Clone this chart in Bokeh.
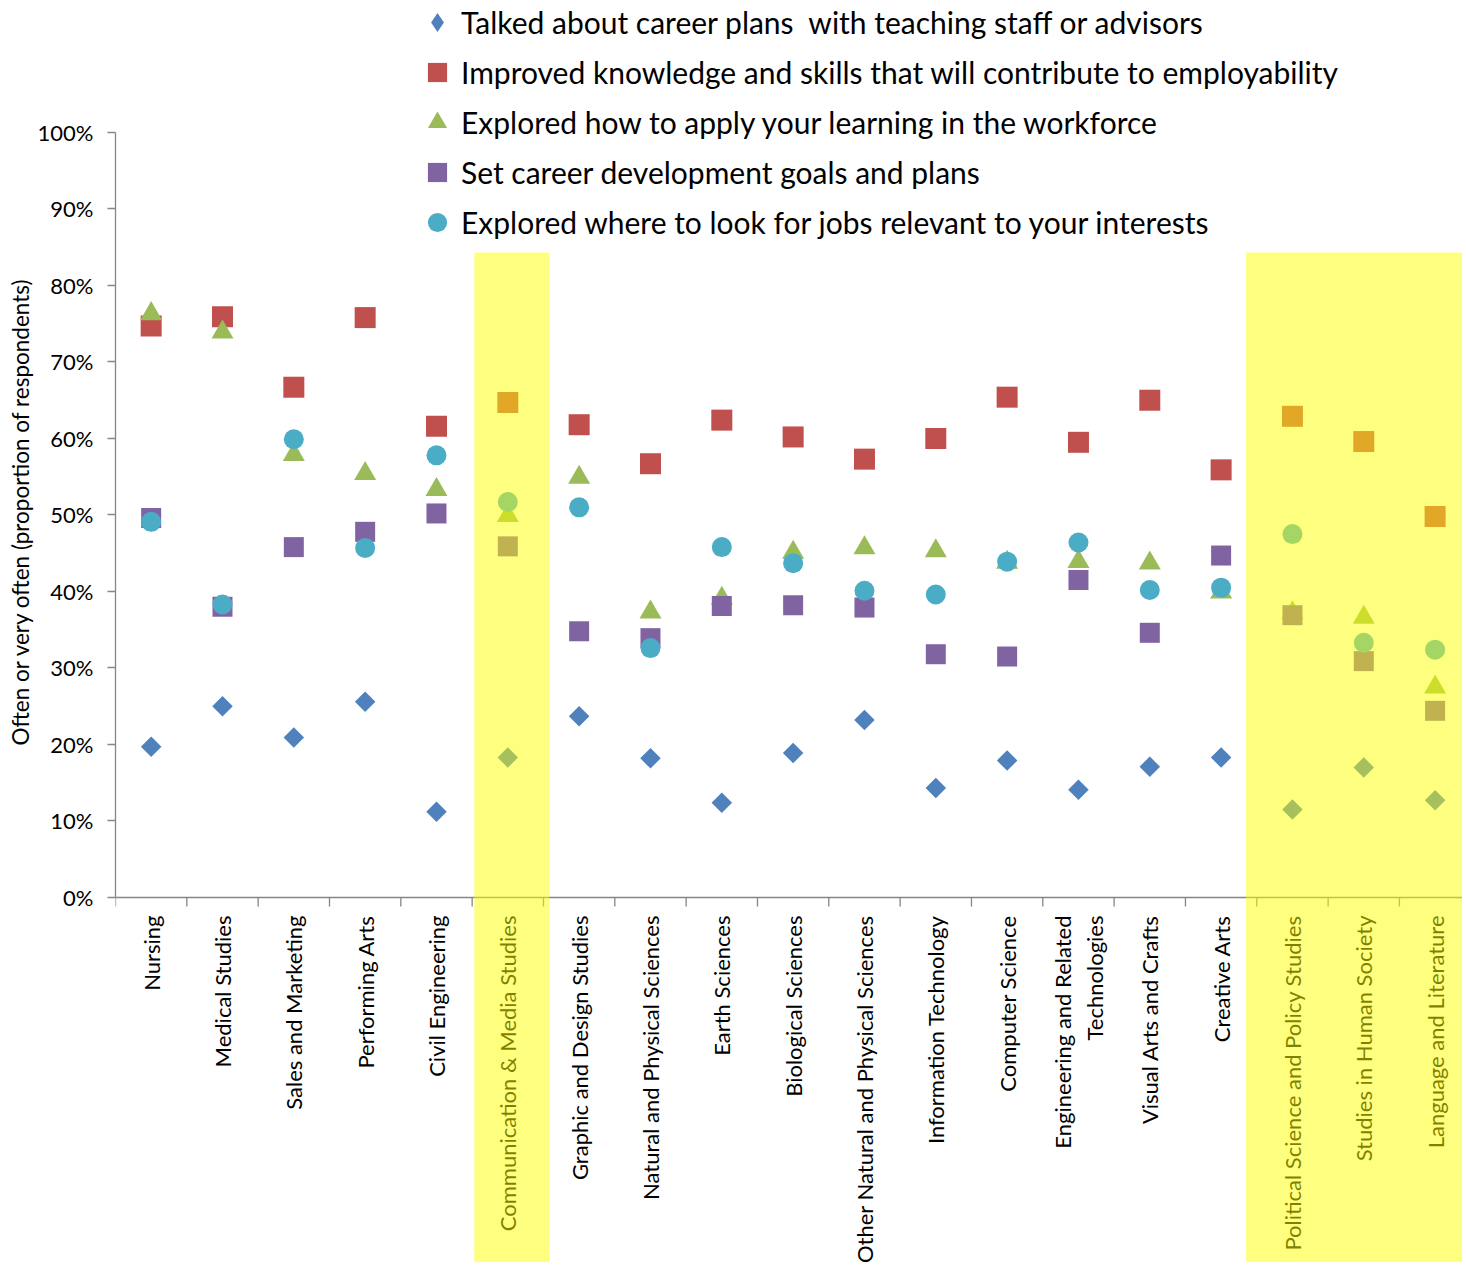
import numpy as np
from bokeh.plotting import figure
from bokeh.models import (Range1d, FixedTicker, NumeralTickFormatter, Legend,
                          LegendItem, Title, ColumnDataSource)
from bokeh.core.properties import value
from bokeh.embed import file_html
from bokeh.resources import INLINE

# ---------------- data ----------------
categories = [
    "Nursing", "Medical Studies", "Sales and Marketing", "Performing Arts",
    "Civil Engineering", "Communication & Media Studies",
    "Graphic and Design Studies", "Natural and Physical Sciences",
    "Earth Sciences", "Biological Sciences",
    "Other Natural and Physical Sciences", "Information Technology",
    "Computer Science", "Engineering and Related\nTechnologies",
    "Visual Arts and Crafts", "Creative Arts",
    "Political Science and Policy Studies", "Studies in Human Society",
    "Language and Literature",
]
highlighted = ["Communication & Media Studies",
               "Political Science and Policy Studies",
               "Studies in Human Society", "Language and Literature"]

talked = [0.197, 0.250, 0.209, 0.256, 0.112, 0.183, 0.237, 0.182, 0.124, 0.189,
          0.232, 0.143, 0.179, 0.141, 0.171, 0.183, 0.115, 0.170, 0.127]
improved = [0.747, 0.759, 0.667, 0.758, 0.616, 0.647, 0.618, 0.567, 0.624, 0.602,
            0.573, 0.600, 0.654, 0.595, 0.650, 0.559, 0.629, 0.596, 0.498]
applied = [0.763, 0.739, 0.579, 0.554, 0.533, 0.499, 0.549, 0.373, 0.391, 0.451,
           0.457, 0.453, 0.438, 0.439, 0.437, 0.399, 0.372, 0.366, 0.275]
goals = [0.496, 0.380, 0.458, 0.478, 0.502, 0.459, 0.348, 0.339, 0.381, 0.382,
         0.379, 0.318, 0.315, 0.415, 0.346, 0.447, 0.369, 0.309, 0.244]
jobs = [0.491, 0.383, 0.599, 0.457, 0.578, 0.517, 0.510, 0.326, 0.458, 0.437,
        0.401, 0.396, 0.439, 0.464, 0.402, 0.405, 0.475, 0.333, 0.324]

series_labels = [
    "Talked about career plans  with teaching staff or advisors",
    "Improved knowledge and skills that will contribute to employability",
    "Explored how to apply your learning in the workforce",
    "Set career development goals and plans",
    "Explored where to look for jobs relevant to your interests",
]
y_title = "Often or very often (proportion of respondents)"
y_ticks = [i / 10 for i in range(11)]

# ---------------- figure ----------------
FONT = "Lato"
n = len(categories)
xs = [i + 0.5 for i in range(n)]

W, H = 1462, 1262
p = figure(width=W, height=H, output_backend="svg", toolbar_location=None,
           x_range=Range1d(0, 18.884), y_range=Range1d(-0.4771, 1.1725),
           x_axis_location=None, min_border_left=115, min_border_right=0,
           min_border_top=0, min_border_bottom=0)
p.outline_line_color = None
p.grid.visible = False

yax = p.yaxis[0]
yax.bounds = (0, 1)
yax.ticker = FixedTicker(ticks=y_ticks)
yax.formatter = NumeralTickFormatter(format="0%")
yax.axis_line_color = "#868686"
yax.axis_line_width = 1.3
yax.major_tick_line_color = "#868686"
yax.major_tick_line_width = 1.3
yax.major_tick_out = 8
yax.major_tick_in = 0
yax.minor_tick_line_color = None
yax.major_label_text_font = FONT
yax.major_label_text_font_size = "22px"
yax.major_label_text_color = "black"
yax.major_label_standoff = 14

# y axis title, placed on the left side, positioned along the 0..100% span
p.add_layout(Title(text=y_title, align="left", offset=H - 745,
                   text_font=FONT, text_font_size="22.5px",
                   text_font_style="normal", text_color="black",
                   standoff=2), "left")

# x axis drawn as glyphs (frame extends below 0 for labels & bands)
p.segment(x0=[0], y0=[0], x1=[n + 1], y1=[0], line_color="#868686", line_width=1.3)
p.segment(x0=list(range(n + 1)), y0=[0] * (n + 1), x1=list(range(n + 1)),
          y1=[-9 / 765] * (n + 1), line_color="#868686", line_width=1.3)

p.text(x=xs, y=[-18 / 765] * n, text=categories, angle=np.pi / 2,
       text_align="right", text_baseline="middle", text_font=value(FONT),
       text_font_size="22px", text_color="black", text_line_height=1.2)

# series
colors = ["#4F81BD", "#C0504D", "#9BBB59", "#8064A2", "#4BACC6"]
src = ColumnDataSource(dict(x=xs, talked=talked, improved=improved,
                            applied=applied, goals=goals, jobs=jobs))

r_talk = p.scatter("x", "talked", source=src, marker="square", angle=np.pi / 4,
                   size=14.5, fill_color=colors[0], line_color=None)
r_impr = p.scatter("x", "improved", source=src, marker="square", size=21,
                   fill_color=colors[1], line_color=None)
r_appl = p.scatter("x", "applied", source=src, marker="triangle", size=22,
                   fill_color=colors[2], line_color=None)
r_goal = p.scatter("x", "goals", source=src, marker="square", size=20,
                   fill_color=colors[3], line_color=None)
r_jobs = p.scatter("x", "jobs", source=src, marker="circle", size=20,
                   fill_color=colors[4], line_color=None)

# legend stand-in for the diamond series (legend glyphs are drawn unrotated)
r_talk_leg = p.scatter(x=[np.nan], y=[np.nan], marker="diamond", size=20,
                       fill_color=colors[0], line_color=None)

# highlight bands (drawn last so they tint what is below)
idx = [categories.index(c) for c in highlighted]
runs = []
for i in idx:
    if runs and runs[-1][1] == i - 1:
        runs[-1][1] = i
    else:
        runs.append([i, i])
pads = [(0.03, 0.08), (-0.15, 1.0)]
lefts = [r[0] + pads[k][0] for k, r in enumerate(runs)]
rights = [r[1] + 1 + pads[k][1] for k, r in enumerate(runs)]
p.quad(left=lefts, right=rights, bottom=[-1] * len(runs), top=[0.843] * len(runs),
       fill_color="#FFFF00", fill_alpha=0.5, line_color=None)

legend = Legend(items=[
    LegendItem(label=series_labels[0], renderers=[r_talk_leg]),
    LegendItem(label=series_labels[1], renderers=[r_impr]),
    LegendItem(label=series_labels[2], renderers=[r_appl]),
    LegendItem(label=series_labels[3], renderers=[r_goal]),
    LegendItem(label=series_labels[4], renderers=[r_jobs]),
], location=(298, H - 247), orientation="vertical")
legend.glyph_width = 48
legend.glyph_height = 50
legend.label_height = 50
legend.spacing = 0
legend.padding = 0
legend.margin = 0
legend.label_standoff = 0
legend.border_line_color = None
legend.background_fill_alpha = 0
legend.label_text_font = FONT
legend.label_text_font_size = "30px"
legend.label_text_color = "black"
p.add_layout(legend)

open("out.html", "w").write(file_html(p, INLINE))
